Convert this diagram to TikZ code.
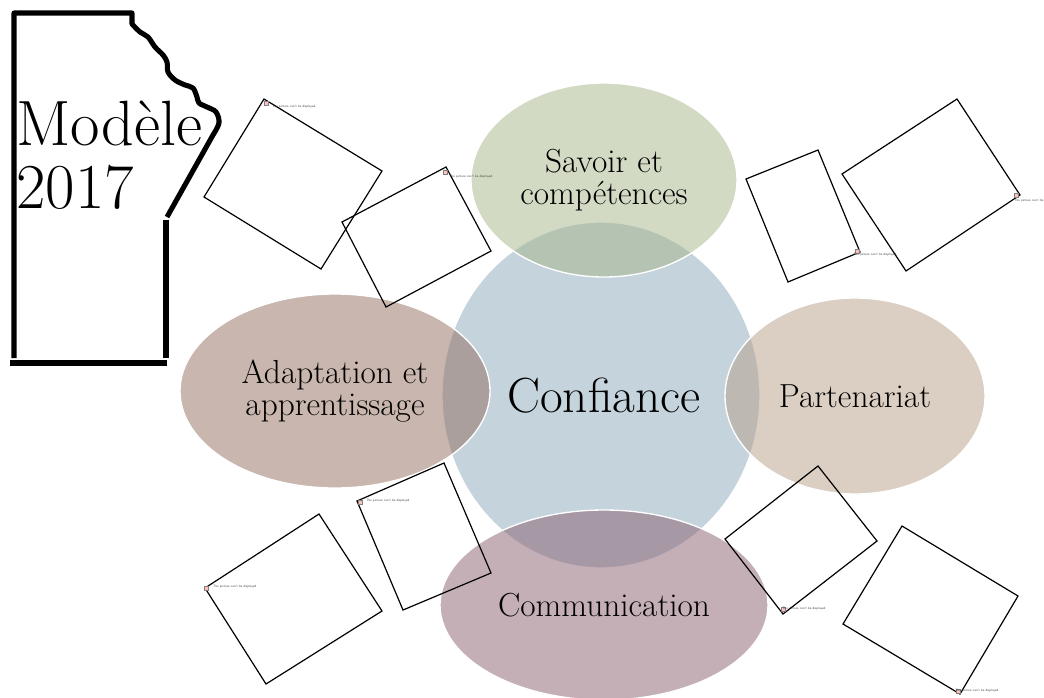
\documentclass[tikz,border=0pt]{standalone}
\usetikzlibrary{shapes.geometric}
\definecolor{cblue}{RGB}{197,211,220}
\definecolor{cgreen}{RGB}{167,181,137}
\definecolor{cbrown}{RGB}{145,109,95}
\definecolor{ctan}{RGB}{183,159,137}
\definecolor{cmauve}{RGB}{137,95,111}
\begin{document}
\begin{tikzpicture}[x=0.75pt,y=-0.75pt,
  sat/.style={ellipse, draw=white, line width=1pt, fill opacity=0.5, text opacity=1, inner sep=0pt, align=center,
    font=\fontsize{25}{24.5}\selectfont},
  picbox/.style={draw=black, line width=0.9pt, line join=miter},
  tinytxt/.style={anchor=west, inner sep=0pt, text=black!75, font=\fontsize{2.4}{3}\sffamily},
  icon/.style={draw=black!50, fill=red!25, line width=0.2pt, minimum size=2.6pt, inner sep=0pt},
  bite/.style={draw=black, line width=3.8pt, line join=round}]
\useasboundingbox (0,0) rectangle (1044,697);
% central circle
\node[ellipse, fill=cblue, draw=white, line width=1pt, minimum width=238.5pt, minimum height=259.5pt, inner sep=0pt,
  font=\fontsize{37}{40}\selectfont] (conf) at (601,395) {};
\node[inner sep=0pt, font=\fontsize{37}{40}\selectfont] (conft) at (604,396) {Confiance};
% satellites
\node[sat, fill=cgreen, minimum width=199.5pt, minimum height=145.5pt] (sav) at (604,180) {Savoir et\\comp\'etences};
\node[sat, fill=cbrown, minimum width=232.5pt, minimum height=145.5pt] (ada) at (335,391) {Adaptation et\\apprentissage};
\node[sat, fill=ctan, minimum width=195pt, minimum height=147pt] (par) at (855,396) {Partenariat};
\node[sat, fill=cmauve, minimum width=246pt, minimum height=142.5pt] (com) at (604,605) {Communication};
% picture placeholders
\draw[picbox] (264,99) -- (382,171) -- (321,269) -- (204,197) -- cycle;
\draw[picbox] (446,167) -- (491,251) -- (386,307) -- (342,222) -- cycle;
\draw[picbox] (818,150) -- (860,252) -- (788,282) -- (746,179) -- cycle;
\draw[picbox] (957,99) -- (1020,195) -- (906,271) -- (842,174) -- cycle;
\draw[picbox] (319,514) -- (382,611) -- (266,684) -- (205,588) -- cycle;
\draw[picbox] (444,463) -- (491,573) -- (403,610) -- (357,501) -- cycle;
\draw[picbox] (818,466) -- (877,541) -- (783,614) -- (725,539) -- cycle;
\draw[picbox] (902,526) -- (1018,596) -- (960,694) -- (843,624) -- cycle;
\node[icon] (i1) at (266,103) {};
\node[tinytxt] (t1) at (272,107) {The picture can't be displayed.};
\node[icon] (i2) at (445,172) {};
\node[tinytxt] (t2) at (449,177) {The picture can't be displayed.};
\node[icon] (i3) at (857,251) {};
\node[tinytxt] (t3) at (853,255) {The picture can't be displayed.};
\node[icon] (i4) at (1016,195) {};
\node[tinytxt] (t4) at (1014,201) {The picture can't be displayed.};
\node[icon] (i5) at (206,588) {};
\node[tinytxt] (t5) at (213,587) {The picture can't be displayed.};
\node[icon] (i6) at (360,502) {};
\node[tinytxt] (t6) at (366,501) {The picture can't be displayed.};
\node[icon] (i7) at (783,609) {};
\node[tinytxt] (t7) at (782,609) {The picture can't be displayed.};
\node[icon] (i8) at (958,691) {};
\node[tinytxt] (t8) at (955,691) {The picture can't be displayed.};
% bitten frame
\draw[bite] (14,358) -- (14,13) -- (132,13) -- plot[smooth,tension=0.55] coordinates {(132,24) (140,32) (148,37) (155,47) (163,55) (167,62) (168,72) (175,80) (185,85) (193,88) (197,97) (199,103) (207,107) (216,112) (219,123) (213,135)} -- (167,217);
\draw[bite] (166,220) -- (166,358);
\draw[bite] (10,363) -- (167,363);
\node[anchor=base west, inner sep=0pt, font=\fontsize{48}{47}\selectfont] (m1) at (16,145) {Mod\`ele};
\node[anchor=base west, inner sep=0pt, font=\fontsize{48}{47}\selectfont] (m2) at (16,208) {2017};
\end{tikzpicture}
\end{document}
